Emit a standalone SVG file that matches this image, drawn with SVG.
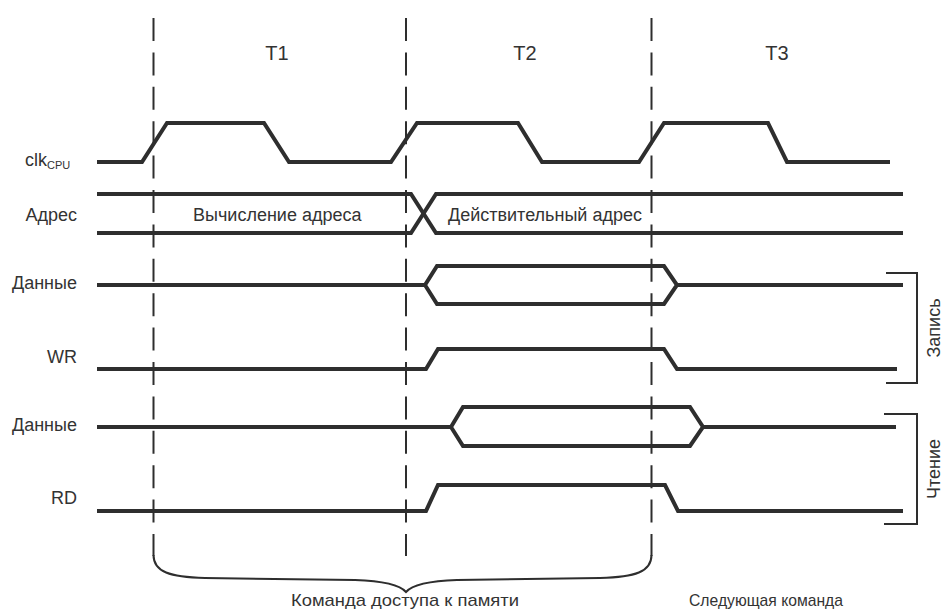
<svg xmlns="http://www.w3.org/2000/svg" width="944" height="609" viewBox="0 0 944 609">
<style>
  .sig{fill:none;stroke:#2e2e2e;stroke-width:4;stroke-linejoin:miter}
  .dash{fill:none;stroke:#2e2e2e;stroke-width:2;stroke-dasharray:23 11.4}
  .thin{fill:none;stroke:#2e2e2e;stroke-width:2}
  text{font-family:"Liberation Sans",Arial,sans-serif;fill:#333;font-size:18px}
  .lbl{text-anchor:end}
  .mid{text-anchor:middle}
  .foot{font-size:17px}
</style>
<rect width="944" height="609" fill="#fff"/>
<g id="grid">
  <line class="dash" x1="153.5" y1="18" x2="153.5" y2="556"/>
  <line class="dash" x1="406" y1="18" x2="406" y2="556"/>
  <line class="dash" x1="651.5" y1="18" x2="651.5" y2="556"/>
</g>
<g id="phases">
  <text class="mid" x="277" y="60" style="font-size:20px">T1</text>
  <text class="mid" x="525" y="60" style="font-size:20px">T2</text>
  <text class="mid" x="777" y="60" style="font-size:20px">T3</text>
</g>
<g id="clk">
  <text x="25" y="166">clk<tspan font-size="11" dy="3">CPU</tspan></text>
  <path class="sig" d="M97,162 H142 L167,123 H264 L289,162 H391 L417,123 H518 L542,162 H639 L664,123 H768 L787,162 H890"/>
</g>
<g id="addr">
  <text class="lbl" x="77" y="221">Адрес</text>
  <path class="sig" d="M97,194 H411 L436,233 H903"/>
  <path class="sig" d="M97,233 H411 L436,194 H903"/>
  <text x="193" y="221">Вычисление адреса</text>
  <text x="448" y="221">Действительный адрес</text>
</g>
<g id="data-write">
  <text class="lbl" x="77" y="289">Данные</text>
  <path class="sig" d="M97,285 H425 L437,266 H664 L677,285 L664,304 H437 L425,285"/>
  <path class="sig" d="M677,285 H903"/>
</g>
<g id="wr">
  <text class="lbl" x="77" y="363">WR</text>
  <path class="sig" d="M97,369 H426 L438,349 H664 L677,369 H897"/>
</g>
<g id="data-read">
  <text class="lbl" x="77" y="431">Данные</text>
  <path class="sig" d="M97,427 H451 L463,407 H690 L703,427 L690,446 H463 L451,427"/>
  <path class="sig" d="M703,427 H896"/>
</g>
<g id="rd">
  <text class="lbl" x="77" y="504">RD</text>
  <path class="sig" d="M97,511 H426 L438,485 H665 L678,511 H903"/>
</g>
<g id="write-bracket">
  <path class="thin" d="M886,273 H917 V383 H886"/>
  <text class="mid" transform="translate(940,328) rotate(-90)">Запись</text>
</g>
<g id="read-bracket">
  <path class="thin" d="M884,414 H917 V524 H884"/>
  <text class="mid" transform="translate(940,469) rotate(-90)">Чтение</text>
</g>
<g id="brace">
  <path class="thin" d="M153.5,555 C153.5,572 170,577 205,578 L355,580 C385,581 400,585 406,592 C412,585 427,581 457,580 L600,578 C635,577 651.5,572 651.5,555"/>
  <text class="mid foot" x="405" y="606" textLength="228" lengthAdjust="spacingAndGlyphs">Команда доступа к памяти</text>
  <text class="mid foot" x="766" y="606" textLength="154" lengthAdjust="spacingAndGlyphs">Следующая команда</text>
</g>
</svg>
